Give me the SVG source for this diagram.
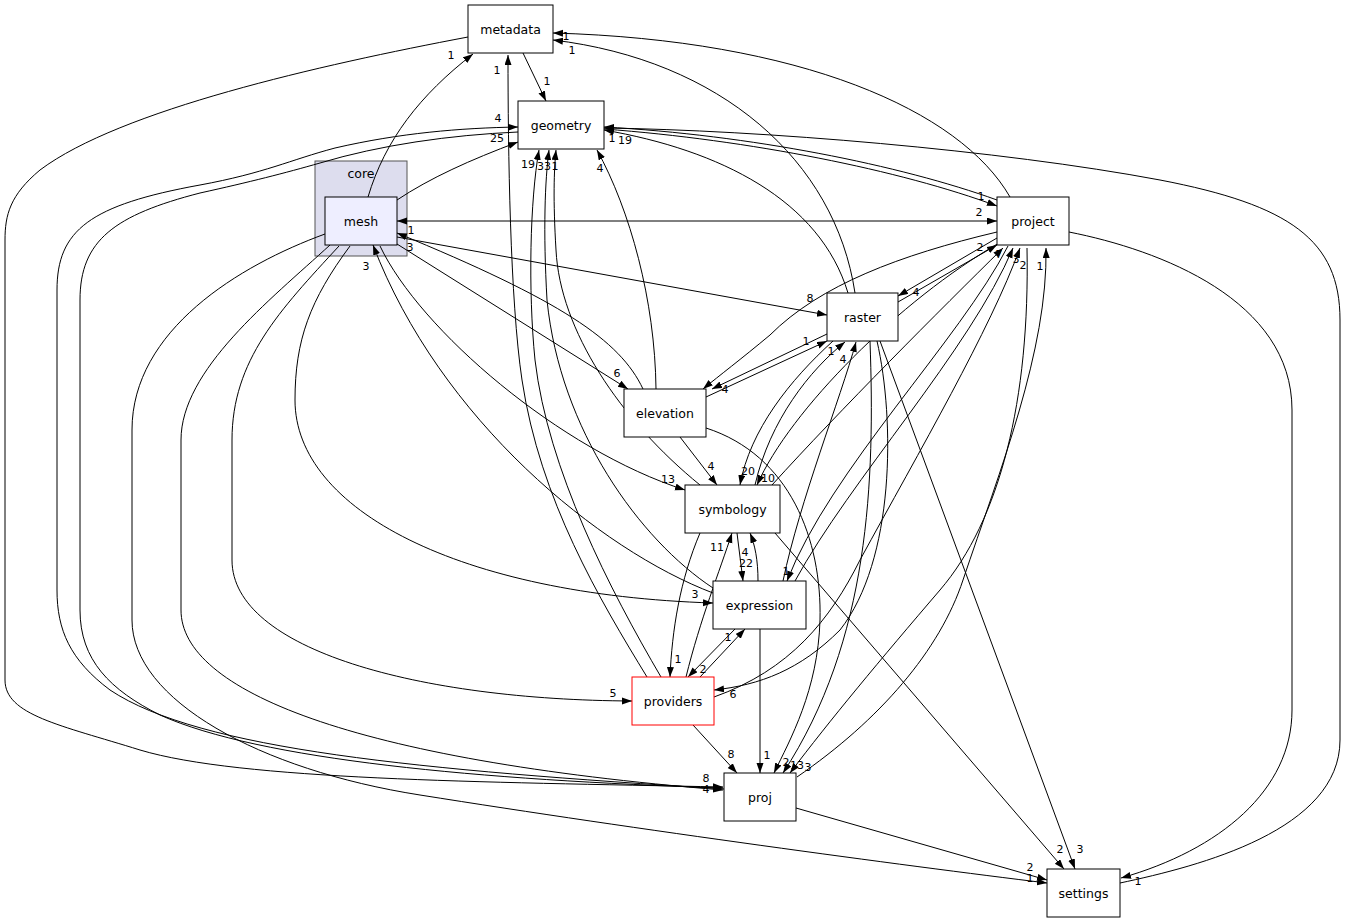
<svg xmlns="http://www.w3.org/2000/svg" width="1352" height="923" viewBox="0 0 1352 923">
<defs>
<marker id="ah" markerUnits="userSpaceOnUse" markerWidth="11" markerHeight="8" refX="10" refY="3.5" orient="auto-start-reverse" viewBox="0 0 11 8">
<path d="M0,0 L10,3.5 L0,7 z" fill="#000"/>
</marker>
<style>
.e path{fill:none;stroke:#000;stroke-width:1;marker-end:url(#ah)}
.n rect{fill:#fff;stroke:#000;stroke-width:1}
.n text,.l text{font-family:"DejaVu Sans",sans-serif;text-anchor:middle;fill:#000}
.n text{font-size:12.5px}
.l text{font-size:11px}
</style>
</defs>
<rect width="1352" height="923" fill="#fff"/>
<g id="cluster_core">
<rect x="315" y="161" width="92" height="95" fill="#ddddee" stroke="#555" stroke-width="1"/>
<text x="361" y="178" style="font-family:'DejaVu Sans',sans-serif;font-size:12.5px;text-anchor:middle">core</text>
</g>
<g class="e" id="connectors">
<path d="M468,37 C320,65 120,110 40,170 C10,195 5,215 5,240 L5,680 C5,715 60,725 140,750 C240,780 480,782 723,787"/>
<path d="M368,197 C385,140 420,95 473,54"/>
<path d="M647,677 C600,600 540,500 522,380 C510,300 508,150 508,55"/>
<path d="M855,293 C835,160 720,60 553,40"/>
<path d="M1010,197 C960,110 800,40 553,33"/>
<path d="M523,53 L546,101"/>
<path d="M724,789 C420,770 200,750 110,690 C70,660 57,630 57,590 L57,290 C57,230 90,205 200,185 C265,173 290,160 335,148 C400,133 460,128 518,127"/>
<path d="M518,132 C450,135 380,145 320,163 C285,173 250,182 200,193 C115,215 80,240 80,300 L80,610 C80,660 110,690 160,715 C260,760 480,780 723,788"/>
<path d="M397,200 C430,178 470,160 518,142"/>
<path d="M661,677 C610,590 548,470 535,360 C528,290 530,200 539,150"/>
<path d="M713,588 C640,540 560,430 547,300 C543,230 545,180 549,150"/>
<path d="M700,485 C620,420 560,330 556,250 C553,200 554,170 556,150"/>
<path d="M656,389 C655,300 630,210 597,150"/>
<path d="M997,200 C900,165 750,135 604,127"/>
<path d="M604,129 C750,140 900,170 997,206"/>
<path d="M848,293 C820,200 720,150 604,130"/>
<path d="M1120,883 C1200,866 1340,830 1340,740 L1340,320 C1340,240 1290,205 1160,180 C1000,150 760,130 604,128"/>
<path d="M1069,232 C1160,250 1292,300 1292,410 L1292,710 C1292,790 1220,850 1121,878"/>
<path d="M397,221 L997,221" style="marker-start:url(#ah)"/>
<path d="M397,237 L827,315"/>
<path d="M397,244 L628,389"/>
<path d="M643,389 C620,340 560,300 397,233"/>
<path d="M380,246 C420,330 560,450 685,490"/>
<path d="M713,593 C600,550 440,420 373,245"/>
<path d="M350,246 C310,300 295,340 295,400 C295,510 460,595 713,603"/>
<path d="M339,246 C280,310 232,360 232,440 L232,560 C232,650 420,700 632,701"/>
<path d="M330,245 C270,300 181,370 181,440 L181,610 C181,690 350,760 723,790"/>
<path d="M325,234 C240,265 132,330 132,430 L132,620 C132,700 260,770 420,795 C640,830 900,865 1047,883"/>
<path d="M997,238 L898,296"/>
<path d="M898,302 L997,245"/>
<path d="M997,232 C900,255 820,285 770,335 C740,360 720,375 703,389"/>
<path d="M706,397 L827,341"/>
<path d="M827,334 L712,389"/>
<path d="M680,437 L717,485"/>
<path d="M706,428 C790,455 822,540 820,620 C818,690 790,740 774,773"/>
<path d="M833,341 C790,380 750,430 740,485"/>
<path d="M999,243 C900,300 790,410 757,485"/>
<path d="M772,485 C840,410 940,310 1003,248"/>
<path d="M755,485 C770,420 810,370 845,342"/>
<path d="M783,581 C800,500 840,400 856,342"/>
<path d="M737,533 L743,581"/>
<path d="M758,581 C758,560 755,545 750,533"/>
<path d="M1008,246 C960,340 830,470 787,581"/>
<path d="M795,581 C850,480 970,350 1013,248"/>
<path d="M700,533 C680,580 672,630 670,677"/>
<path d="M686,677 C700,620 720,570 732,533"/>
<path d="M735,629 L688,677"/>
<path d="M700,677 L745,629"/>
<path d="M877,341 C895,420 895,560 840,630 C800,670 760,685 714,690"/>
<path d="M714,697 C790,670 830,620 860,560 C920,450 990,330 1020,248"/>
<path d="M1027,248 C1030,400 1000,520 940,590 C880,660 830,720 790,773"/>
<path d="M797,777 C880,720 940,650 963,580 C1000,470 1048,350 1046,248"/>
<path d="M870,341 C875,480 870,640 783,773"/>
<path d="M693,725 L737,773"/>
<path d="M760,629 L760,773"/>
<path d="M775,533 L1064,869"/>
<path d="M880,341 L1075,869"/>
<path d="M796,808 L1047,880"/>
</g>
<g class="l" id="labels">
<text x="451" y="59">1</text>
<text x="497" y="74">1</text>
<text x="566" y="40">1</text>
<text x="572" y="54">1</text>
<text x="547" y="85">1</text>
<text x="498" y="122">4</text>
<text x="497" y="142">25</text>
<text x="528" y="168">19</text>
<text x="544" y="170">33</text>
<text x="555" y="170">1</text>
<text x="600" y="172">4</text>
<text x="612" y="142">1</text>
<text x="625" y="144">19</text>
<text x="981" y="200">1</text>
<text x="979" y="216">2</text>
<text x="411" y="234">1</text>
<text x="410" y="251">3</text>
<text x="366" y="270">3</text>
<text x="810" y="302">8</text>
<text x="617" y="377">6</text>
<text x="668" y="483">13</text>
<text x="695" y="598">3</text>
<text x="613" y="697">5</text>
<text x="706" y="782">8</text>
<text x="706" y="793">4</text>
<text x="1030" y="882">1</text>
<text x="1030" y="871">2</text>
<text x="916" y="296">4</text>
<text x="980" y="251">2</text>
<text x="725" y="393">4</text>
<text x="806" y="345">1</text>
<text x="711" y="470">4</text>
<text x="748" y="475">20</text>
<text x="768" y="482">10</text>
<text x="999" y="258">7</text>
<text x="1016" y="263">3</text>
<text x="1023" y="269">2</text>
<text x="1040" y="270">1</text>
<text x="831" y="355">1</text>
<text x="843" y="363">4</text>
<text x="746" y="567">22</text>
<text x="745" y="556">4</text>
<text x="786" y="575">1</text>
<text x="717" y="551">11</text>
<text x="678" y="663">1</text>
<text x="703" y="673">2</text>
<text x="728" y="641">1</text>
<text x="733" y="698">6</text>
<text x="731" y="758">8</text>
<text x="767" y="759">1</text>
<text x="786" y="766">2</text>
<text x="797" y="769">13</text>
<text x="808" y="771">3</text>
<text x="1060" y="853">2</text>
<text x="1080" y="853">3</text>
<text x="1138" y="885">1</text>
</g>
<g class="n" id="metadata"><rect x="468" y="5" width="85" height="48"/><text x="510.5" y="33.5">metadata</text></g>
<g class="n" id="geometry"><rect x="518" y="101" width="86" height="48"/><text x="561" y="129.5">geometry</text></g>
<g class="n" id="mesh"><rect x="325" y="197" width="72" height="48" style="fill:#eeeeff"/><text x="361" y="225.5">mesh</text></g>
<g class="n" id="project"><rect x="997" y="197" width="72" height="48"/><text x="1033" y="225.5">project</text></g>
<g class="n" id="raster"><rect x="827" y="293" width="71" height="48"/><text x="862.5" y="321.5">raster</text></g>
<g class="n" id="elevation"><rect x="624" y="389" width="82" height="48"/><text x="665" y="417.5">elevation</text></g>
<g class="n" id="symbology"><rect x="685" y="485" width="95" height="48"/><text x="732.5" y="513.5">symbology</text></g>
<g class="n" id="expression"><rect x="713" y="581" width="93" height="48"/><text x="759.5" y="609.5">expression</text></g>
<g class="n" id="providers"><rect x="632" y="677" width="82" height="48" style="stroke:#ff0000"/><text x="673" y="705.5">providers</text></g>
<g class="n" id="proj"><rect x="724" y="773" width="72" height="48"/><text x="760" y="801.5">proj</text></g>
<g class="n" id="settings"><rect x="1047" y="869" width="73" height="48"/><text x="1083.5" y="897.5">settings</text></g>
</svg>
